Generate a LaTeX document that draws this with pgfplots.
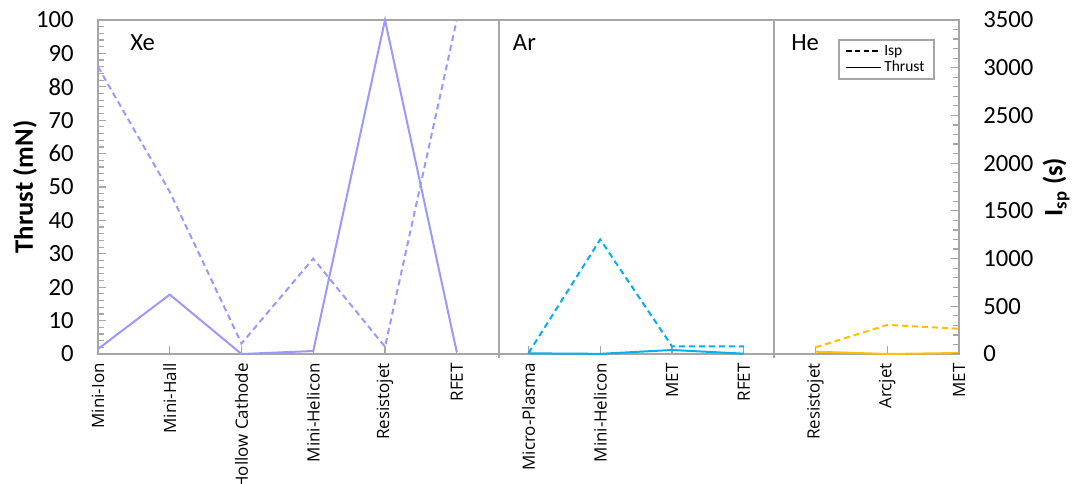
\documentclass[border=0pt]{standalone}
\usepackage{fontspec}
\setmainfont{Carlito}
\newfontfamily\labfont{Open Sans}
\usepackage{pgfplots}
\pgfplotsset{compat=1.18}
\definecolor{xe}{RGB}{153,153,255}
\definecolor{ar}{RGB}{0,176,240}
\definecolor{he}{RGB}{255,192,0}
\definecolor{frame}{RGB}{166,166,166}
\begin{document}
\begin{tikzpicture}
\pgfplotsset{
 base/.style={
  scale only axis, width=645.75pt, height=250.5pt,
  xmin=0, xmax=12, ymin=0,
  tick align=inside,
  major tick length=6pt, minor tick length=4.5pt,
  every tick/.style={frame, line width=0.9pt},
  axis line style={frame, line width=1.2pt},
  /pgf/number format/assume math mode=true,
  /pgf/number format/1000 sep={},
  tick label style={font=\fontsize{18.5}{20}\selectfont},
  yticklabel shift=18pt,
  y tick label style={inner sep=0pt},
 }
}
\begin{axis}[base,
  ymax=100, ytick={0,10,...,100}, minor y tick num=4, ytick pos=left,
  xtick={0,...,12}, xtick pos=bottom,
  xticklabels={Mini-Ion, Mini-Hall, Hollow Cathode, Mini-Helicon, Resistojet, RFET, Micro-Plasma, Mini-Helicon, MET, RFET, Resistojet, Arcjet, MET},
  x tick label style={rotate=90, anchor=east, inner sep=0pt, font=\labfont\fontsize{12.7}{14}\selectfont},
  xticklabel shift=6.75pt,
  ylabel={\textbf{Thrust (mN)}},
  ylabel style={at={(axis description cs:-0.0848,0.5)}, anchor=center, font=\fontsize{20}{22}\selectfont},
  clip=false,
]
\addplot[xe, line width=1.5pt] coordinates {(0,1.5)(1,17.8)(2,0)(3,0.9)(4,100)(5,0.6)};
\addplot[ar, line width=1.5pt] coordinates {(6,0.2)(7,0.05)(8,1.2)(9,0.1)};
\addplot[he, line width=1.5pt] coordinates {(10,0.7)(11,0)(12,0.3)};
\draw[frame, line width=1.2pt] (axis cs:5.589,-1.2) -- (axis cs:5.589,100);
\draw[frame, line width=1.2pt] (axis cs:9.42,-1.2) -- (axis cs:9.42,100);
\node[anchor=west, inner sep=0pt, font=\fontsize{18.5}{20}\selectfont] at (axis cs:0.446,93.1) {Xe};
\node[anchor=west, inner sep=0pt, font=\fontsize{18.5}{20}\selectfont] at (axis cs:5.78,93.1) {Ar};
\node[anchor=west, inner sep=0pt, font=\fontsize{18.5}{20}\selectfont] at (axis cs:9.66,93.1) {He};
\end{axis}
\begin{axis}[base,
  ymax=3500, ytick={0,500,...,3500}, minor y tick num=4,
  axis y line*=right, axis x line=none,
  y tick label style={anchor=west},
  ylabel={\textbf{I\textsubscript{sp} (s)}},
  ylabel style={at={(axis description cs:1.1127,0.5)}, anchor=center, rotate=0, font=\fontsize{20}{22}\selectfont},
  legend style={at={(axis description cs:0.8595,0.943)}, anchor=north west, draw=frame, line width=1.2pt,
    font=\fontsize{11.6}{13}\selectfont, inner xsep=5pt, inner ysep=2pt, row sep=-1pt, cells={anchor=west}},
  legend image code/.code={\draw[#1] (0pt,0pt) -- (26pt,0pt);},
]
\addplot[xe, line width=1.5pt, dash pattern=on 4.5pt off 3pt, forget plot] coordinates {(0,3010)(1,1700)(2,110)(3,1000)(4,75)(5,3500)};
\addplot[ar, line width=1.5pt, dash pattern=on 4.5pt off 3pt, forget plot] coordinates {(6,10)(7,1200)(8,80)(9,80)};
\addplot[he, line width=1.5pt, dash pattern=on 4.5pt off 3pt, forget plot] coordinates {(10,70)(11,305)(12,265)};
\addlegendimage{black, line width=1.1pt, dash pattern=on 4pt off 2.5pt}
\addlegendentry{Isp}
\addlegendimage{black, line width=1.1pt}
\addlegendentry{Thrust}
\end{axis}
\pgfresetboundingbox
\path[use as bounding box] (-73.5pt,-96.75pt) rectangle (732pt,265.5pt);
\end{tikzpicture}
\end{document}
